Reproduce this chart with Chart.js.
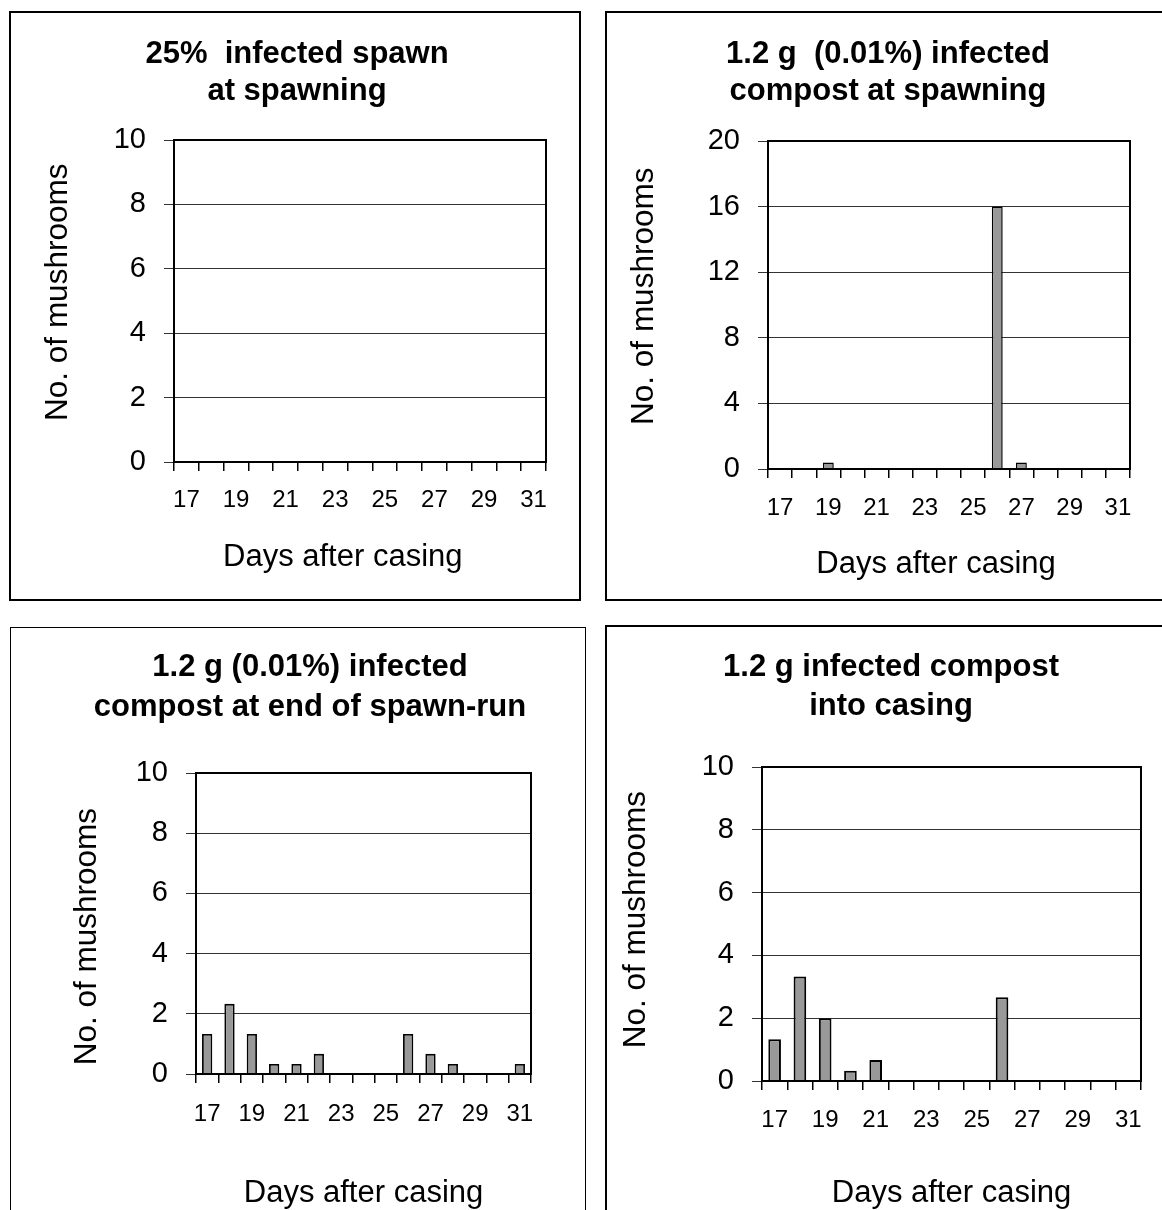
<!DOCTYPE html>
<html>
<head>
<meta charset="utf-8">
<script src="https://cdn.jsdelivr.net/npm/chart.js@4.4.1/dist/chart.umd.min.js"></script>
<style>
  body { margin: 0; background: #fff; }
  #page { position: relative; width: 1162px; height: 1210px; overflow: hidden; background: #fff; }
  .panel { position: absolute; box-sizing: border-box; border: 2px solid #000; }
  canvas { position: absolute; }
</style>
</head>
<body>
<div id="page">
  <div class="panel" style="left:9px;top:11px;width:572px;height:590px"></div>
  <div class="panel" style="left:605px;top:11px;width:600px;height:590px"></div>
  <div class="panel" style="left:10px;top:627px;width:576px;height:700px;border-width:1px"></div>
  <div class="panel" style="left:605px;top:625px;width:600px;height:700px"></div>

  <canvas id="c1" width="566" height="584" style="left:12px;top:14px"></canvas>
  <canvas id="c2" width="554" height="584" style="left:608px;top:14px"></canvas>
  <canvas id="c3" width="573" height="582" style="left:11px;top:628px"></canvas>
  <canvas id="c4" width="555" height="583" style="left:607px;top:627px"></canvas>
</div>
<script>
// days after casing (x categories)
const days = ['17', '18', '19', '20', '21', '22', '23', '24', '25', '26', '27', '28', '29', '30', '31'];

// number of mushrooms per day, one array per treatment
const spawnAtSpawning    = [0, 0, 0, 0, 0, 0, 0, 0, 0, 0, 0, 0, 0, 0, 0];
const compostAtSpawning  = [0, 0, 0.4, 0, 0, 0, 0, 0, 0, 16, 0.4, 0, 0, 0, 0];
const compostEndOfRun    = [1.33, 2.33, 1.33, 0.33, 0.33, 0.67, 0, 0, 0, 1.33, 0.67, 0.33, 0, 0, 0.33];
const compostIntoCasing  = [1.33, 3.33, 2, 0.33, 0.67, 0, 0, 0, 0, 2.67, 0, 0, 0, 0, 0];

const FONT = "'Liberation Sans', Arial, sans-serif";
const X_TITLE = 'Days after casing';
const Y_TITLE = 'No. of mushrooms';

// box round the plot area (Excel style)
const plotFrame = {
  id: 'plotFrame',
  afterDatasetsDraw(chart) {
    const { ctx, chartArea: a } = chart;
    ctx.save();
    ctx.strokeStyle = '#000';
    ctx.lineWidth = 2;
    ctx.strokeRect(a.left, a.top, a.right - a.left, a.bottom - a.top);
    ctx.restore();
  }
};

// the original axis titles sit a little off centre; nudge them with spaces
function nudge(text, before, after) {
  return ' '.repeat(before) + text + ' '.repeat(after);
}

function makeChart(id, p) {
  return new Chart(document.getElementById(id), {
    type: 'bar',
    data: {
      labels: days,
      datasets: [{
        data: p.values,
        backgroundColor: '#999999',
        borderColor: '#000',
        borderWidth: p.barBorder,
        barPercentage: p.barPct,
        categoryPercentage: 1
      }]
    },
    options: {
      responsive: false,
      animation: false,
      layout: { padding: { left: p.padL, right: p.padR, top: 0, bottom: 0 } },
      plugins: {
        legend: { display: false },
        tooltip: { enabled: false },
        title: {
          display: true,
          text: p.title,
          color: '#000',
          font: { family: FONT, size: 31, weight: 'bold', lineHeight: p.titleLH },
          padding: { top: p.titlePad[0], bottom: p.titlePad[1] }
        }
      },
      scales: {
        x: {
          grid: { drawOnChartArea: false, drawTicks: true, tickLength: 9, color: '#000', lineWidth: 1.5, offset: true },
          border: { display: true, color: '#000', width: 2 },
          ticks: {
            color: '#000',
            font: { family: FONT, size: 24 },
            padding: p.xTickPad,
            autoSkip: false,
            maxRotation: 0,
            callback: (v, i) => (i % 2 === 0 ? days[i] : '')
          },
          title: {
            display: true,
            text: p.xTitle,
            color: '#000',
            font: { family: FONT, size: 31 },
            padding: { top: 0, bottom: p.xTitlePad }
          },
          afterFit: s => { s.height = p.xH; }
        },
        y: {
          min: 0,
          max: p.yMax,
          ticks: { stepSize: p.step, color: '#000', font: { family: FONT, size: 29 }, padding: 18 },
          grid: { color: '#333', lineWidth: 1, tickLength: 10 },
          border: { display: true, color: '#000', width: 2 },
          title: {
            display: true,
            text: p.yTitle,
            color: '#000',
            font: { family: FONT, size: 31.5, lineHeight: 1 },
            padding: { top: p.yTitlePad, bottom: 0 }
          },
          afterFit: s => { s.width = p.yW; }
        }
      }
    },
    plugins: [plotFrame]
  });
}

makeChart('c1', {
  title: ['25%  infected spawn', 'at spawning'], titleLH: '37px', titlePad: [21.5, 30.5],
  values: spawnAtSpawning, yMax: 10, step: 2,
  padL: 36, padR: 32, yW: 126, xH: 136,
  xTitle: nudge(X_TITLE, 0, 4), yTitle: nudge(Y_TITLE, 2, 0),
  yTitlePad: -5.75, xTickPad: 14.6, xTitlePad: 22.4, barPct: 0.45, barBorder: 1.5
});

makeChart('c2', {
  title: ['1.2 g  (0.01%) infected', 'compost at spawning'], titleLH: '37px', titlePad: [21.5, 31.5],
  values: compostAtSpawning, yMax: 20, step: 4,
  padL: 38, padR: 32, yW: 122, xH: 129,
  xTitle: nudge(X_TITLE, 0, 3), yTitle: nudge(Y_TITLE, 2, 0),
  yTitlePad: -17.75, xTickPad: 15.6, xTitlePad: 15.4, barPct: 0.45, barBorder: 1.5
});

makeChart('c3', {
  title: ['1.2 g (0.01%) infected', 'compost at end of spawn-run'], titleLH: '40px', titlePad: [19, 46],
  values: compostEndOfRun, yMax: 10, step: 2,
  padL: 78, padR: 53, yW: 107, xH: 136,
  xTitle: X_TITLE, yTitle: nudge(Y_TITLE, 0, 3),
  yTitlePad: -17.25, xTickPad: 16.6, xTitlePad: -1.6, barPct: 0.46, barBorder: 1.8
});

makeChart('c4', {
  title: ['1.2 g infected compost', 'into casing'], titleLH: '39px', titlePad: [20.5, 41.5],
  values: compostIntoCasing, yMax: 10, step: 2,
  padL: 34, padR: 21, yW: 121, xH: 129,
  xTitle: X_TITLE, yTitle: nudge(Y_TITLE, 1, 0),
  yTitlePad: -20.25, xTickPad: 15.6, xTitlePad: -2.1, barPct: 0.5, barBorder: 2
});
</script>
</body>
</html>
